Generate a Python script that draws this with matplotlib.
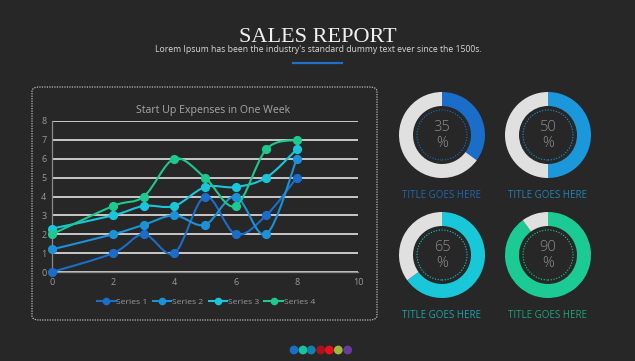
import matplotlib
matplotlib.use("Agg")
import matplotlib.pyplot as plt
from matplotlib.path import Path
from matplotlib.patches import PathPatch, FancyBboxPatch, Circle
from matplotlib.lines import Line2D
import numpy as np

# ---------------- data ----------------
x_vals = [0, 2, 3, 4, 5, 6, 7, 8]
series_names = ["Series 1", "Series 2", "Series 3", "Series 4"]
series1 = [0, 1, 2, 1, 4, 2, 3, 5]
series2 = [1.2, 2, 2.5, 3, 2.5, 4, 2, 6]
series3 = [2.3, 3, 3.5, 3.5, 4.5, 4.5, 5, 6.5]
series4 = [2, 3.5, 4, 6, 5, 3.5, 6.5, 7]
series_colors = ["#1A6DC8", "#1B92D8", "#19C6DC", "#1CC98E"]

donut_values = [35, 50, 65, 90]
donut_colors = ["#1A6DC8", "#1B98DC", "#19C8D8", "#1CCB94"]
donut_titles = ["TITLE GOES HERE"] * 4
donut_title_colors = ["#1E68AE", "#1E84B6", "#18A6AE", "#19A67A"]

dot_colors = ["#1670C8", "#18C49A", "#1380B0", "#B0101C", "#E8101C", "#9DB83A", "#6A3AA0"]

BG = "#272727"
W, H = 635, 361

fig = plt.figure(figsize=(W / 100, H / 100), dpi=100, facecolor=BG)


def fx(px):
    return px / W


def fy(py):
    return 1 - py / H


# ---------------- header ----------------
fig.text(fx(318), fy(37), "SALES REPORT", ha="center", va="center",
         family="Liberation Serif", fontsize=16, color="#f0f0f0")
fig.text(fx(318), fy(50), "Lorem Ipsum has been the industry's standard dummy text ever since the 1500s.",
         ha="center", va="center", family="Open Sans", fontsize=6.25, color="#d8d8d8")
fig.add_artist(Line2D([fx(293), fx(342)], [fy(62.5), fy(62.5)], color="#1E6FC8", lw=1.6,
                      transform=fig.transFigure))

# ---------------- chart box ----------------
box = FancyBboxPatch((fx(32), fy(320)), fx(377) - fx(32), fy(87) - fy(320),
                     boxstyle="round,pad=0,rounding_size=0.012", transform=fig.transFigure,
                     facecolor="none", edgecolor="#bdbdbd", lw=0.9, ls=(0, (1, 1)))
fig.add_artist(box)

ax = fig.add_axes([fx(52), fy(272), fx(358) - fx(52), fy(121) - fy(272)])
ax.set_facecolor(BG)
ax.set_xlim(0, 10)
ax.set_ylim(0, 8)
for s in ["top", "right"]:
    ax.spines[s].set_visible(False)
for s in ["left", "bottom"]:
    ax.spines[s].set_color("#8a8a8a")
    ax.spines[s].set_linewidth(0.9)
ax.set_xticks(range(0, 11, 2))
ax.set_yticks(range(0, 9))
ax.tick_params(colors="#9a9a9a", labelsize=6.5, length=0, pad=4)
for lab in ax.get_xticklabels() + ax.get_yticklabels():
    lab.set_family("Open Sans")
ax.yaxis.grid(True, color="#c8c8c8", lw=1.4)
ax.set_axisbelow(True)


def smooth_path(xs, ys):
    pts = np.column_stack([xs, ys]).astype(float)
    n = len(pts)
    verts = [pts[0]]
    codes = [Path.MOVETO]
    for i in range(n - 1):
        p0 = pts[i - 1] if i > 0 else pts[i]
        p1 = pts[i]
        p2 = pts[i + 1]
        p3 = pts[i + 2] if i + 2 < n else pts[i + 1]
        c1 = p1 + (p2 - p0) / 6.0
        c2 = p2 - (p3 - p1) / 6.0
        verts += [c1, c2, p2]
        codes += [Path.CURVE4] * 3
    return Path(verts, codes)


all_series = [series1, series2, series3, series4]
handles = []
for ys, c, name in zip(all_series, series_colors, series_names):
    ax.add_patch(PathPatch(smooth_path(x_vals, ys), facecolor="none", edgecolor=c, lw=1.5,
                           clip_on=False, zorder=3))
    ax.plot(x_vals, ys, ls="none", marker="o", ms=5.6, color=c, zorder=4, clip_on=False)
    handles.append(Line2D([], [], color=c, lw=1.5, marker="o", ms=4.5, label=name))

fig.text(fx(213), fy(110), "Start Up Expenses in One Week",
         ha="center", va="center", family="Open Sans", fontsize=7.6, color="#a8a8a8")

leg = fig.legend(handles=handles, loc="center", bbox_to_anchor=(fx(206), fy(302)), ncol=4,
                 frameon=False, handlelength=2.2, columnspacing=0.6, handletextpad=0.1,
                 labelcolor="#9a9a9a", prop={"family": "Open Sans", "size": 6.1})

# ---------------- donuts ----------------
centers = [(442, 135), (548, 135), (442, 255), (548, 255)]
R = 43
for (cx, cy), val, col, title, tcol in zip(centers, donut_values, donut_colors, donut_titles,
                                           donut_title_colors):
    dax = fig.add_axes([fx(cx - R), fy(cy + R), 2 * R / W, 2 * R / H])
    dax.pie([val, 100 - val], colors=[col, "#e0e0e0"], startangle=90, counterclock=False,
            radius=1, wedgeprops=dict(width=14 / 43, linewidth=0))
    dax.set_xlim(-1, 1)
    dax.set_ylim(-1, 1)
    dax.set_aspect("equal")
    dax.axis("off")
    dax.add_patch(Circle((0, 0), 25 / 43, fill=False, edgecolor=col, lw=0.8, ls=(0, (1, 1.5))))
    dax.text(0, 7.5 / 43, f"{val}", ha="center", va="center", family="Open Sans", fontsize=10.5,
             color="#8c8c8c", fontweight="light")
    dax.text(0, -8.5 / 43, "%", ha="center", va="center", family="Open Sans", fontsize=10.5,
             color="#8c8c8c", fontweight="light")
    fig.text(fx(cx), fy(cy + 61), title, ha="center", va="center", family="Open Sans",
             fontsize=7, color=tcol)

# ---------------- bottom dots ----------------
dot_x = [294, 303, 311.3, 320.7, 329.3, 338.3, 347.7]
dax2 = fig.add_axes([0, 0, 1, 1], facecolor="none")
dax2.set_xlim(0, W)
dax2.set_ylim(H, 0)
dax2.axis("off")
dax2.scatter(dot_x, [350] * len(dot_x), s=40, c=dot_colors, linewidths=0)

fig.savefig("out.png", dpi=100, facecolor=BG)
